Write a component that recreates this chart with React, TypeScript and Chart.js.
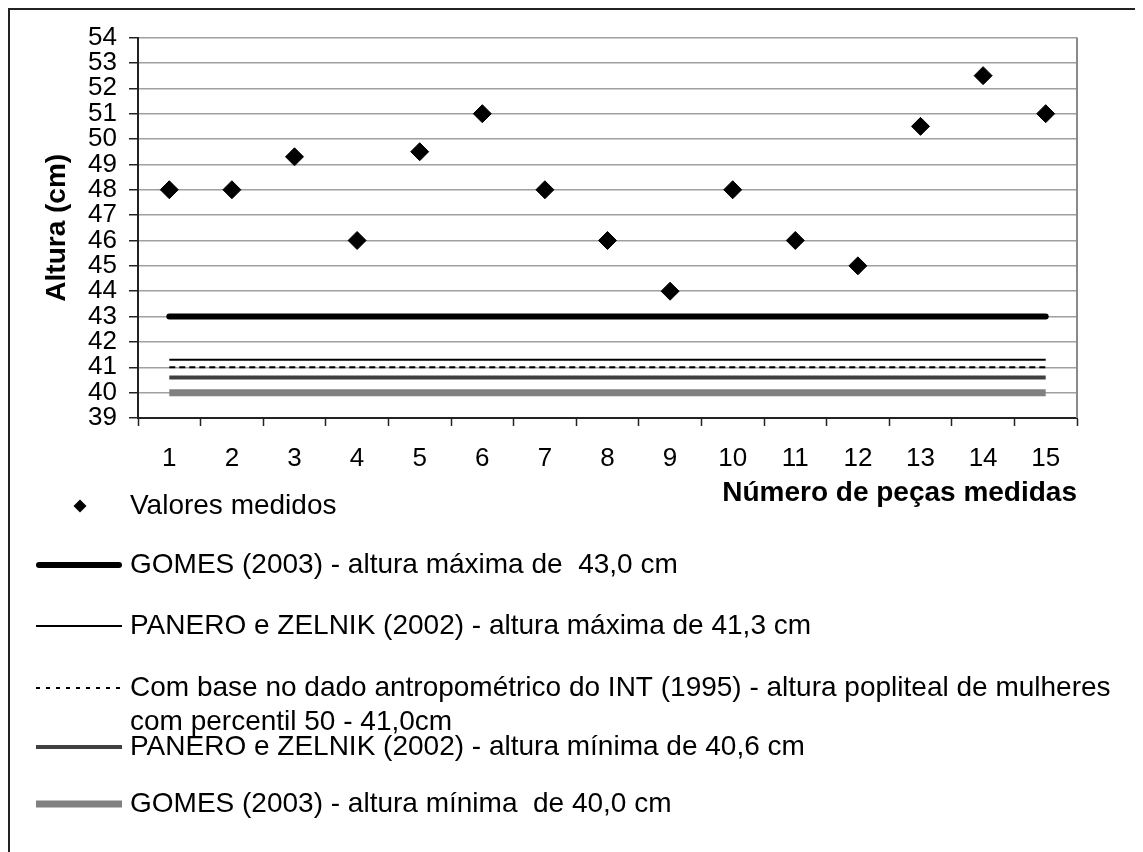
import React, { useEffect, useRef } from 'react';
import { Chart, registerables } from 'chart.js';

Chart.register(...registerables);

// ---- data ----
const categories = ['1', '2', '3', '4', '5', '6', '7', '8', '9', '10', '11', '12', '13', '14', '15'];
const measuredValues = [48, 48, 49.3, 46, 49.5, 51, 48, 46, 44, 48, 46, 45, 50.5, 52.5, 51];
const gomesMax = [43, 43, 43, 43, 43, 43, 43, 43, 43, 43, 43, 43, 43, 43, 43];
const paneroMax = [41.3, 41.3, 41.3, 41.3, 41.3, 41.3, 41.3, 41.3, 41.3, 41.3, 41.3, 41.3, 41.3, 41.3, 41.3];
const intP50 = [41.0, 41.0, 41.0, 41.0, 41.0, 41.0, 41.0, 41.0, 41.0, 41.0, 41.0, 41.0, 41.0, 41.0, 41.0];
const paneroMin = [40.6, 40.6, 40.6, 40.6, 40.6, 40.6, 40.6, 40.6, 40.6, 40.6, 40.6, 40.6, 40.6, 40.6, 40.6];
const gomesMin = [40.0, 40.0, 40.0, 40.0, 40.0, 40.0, 40.0, 40.0, 40.0, 40.0, 40.0, 40.0, 40.0, 40.0, 40.0];

const yMin = 39;
const yMax = 54;
const yStep = 1;

const yTitle = 'Altura (cm)';
const xTitle = 'Número de peças medidas';

const legendLabels: string[][] = [
  ['Valores medidos'],
  ['GOMES (2003) - altura máxima de  43,0 cm'],
  ['PANERO e ZELNIK (2002) - altura máxima de 41,3 cm'],
  ['Com base no dado antropométrico do INT (1995) - altura popliteal de mulheres', 'com percentil 50 - 41,0cm'],
  ['PANERO e ZELNIK (2002) - altura mínima de 40,6 cm'],
  ['GOMES (2003) - altura mínima  de 40,0 cm'],
];

const FONT = '"Liberation Sans", Arial, Helvetica, sans-serif';

// legend layout (canvas coordinates)
const legendRows = [496, 555, 616, 678, 737, 794];
const legendLineGap = 34;
const legendSampleX0 = 26;
const legendSampleX1 = 112;
const legendTextX = 120;

const legendPlugin = {
  id: 'customLegend',
  afterDraw(chart: any) {
    const ctx = chart.ctx as CanvasRenderingContext2D;
    chart.data.datasets.forEach((ds: any, i: number) => {
      const y = legendRows[i];
      ctx.save();
      if (ds.showLine === false) {
        const cx = (legendSampleX0 + legendSampleX1) / 2 + 1;
        const r = 6.5;
        ctx.fillStyle = '#000';
        ctx.beginPath();
        ctx.moveTo(cx, y - r);
        ctx.lineTo(cx + r, y);
        ctx.lineTo(cx, y + r);
        ctx.lineTo(cx - r, y);
        ctx.closePath();
        ctx.fill();
      } else {
        ctx.strokeStyle = ds.borderColor;
        ctx.lineWidth = ds.borderWidth;
        ctx.setLineDash(ds.legendDash || ds.borderDash || []);
        ctx.lineCap = ds.borderCapStyle || 'butt';
        const inset = ds.borderCapStyle === 'round' ? ds.borderWidth / 2 : 0;
        ctx.beginPath();
        ctx.moveTo(legendSampleX0 + inset, y);
        ctx.lineTo(legendSampleX1 - inset, y);
        ctx.stroke();
      }
      ctx.setLineDash([]);
      ctx.fillStyle = '#000';
      ctx.font = `28px ${FONT}`;
      ctx.textBaseline = 'middle';
      ctx.textAlign = 'left';
      (legendLabels[i] || []).forEach((line, k) => {
        ctx.fillText(line, legendTextX, y + k * legendLineGap);
      });
      ctx.restore();
    });
  },
};

const frameRightPlugin = {
  id: 'frameRight',
  beforeDatasetsDraw(chart: any) {
    const { ctx, chartArea } = chart;
    ctx.save();
    ctx.strokeStyle = '#8a8a8a';
    ctx.lineWidth = 2;
    ctx.beginPath();
    ctx.moveTo(chartArea.right, chartArea.top);
    ctx.lineTo(chartArea.right, chartArea.bottom);
    ctx.stroke();
    ctx.restore();
  },
};

export default function App() {
  const canvasRef = useRef<HTMLCanvasElement | null>(null);

  useEffect(() => {
    document.body.style.overflow = 'hidden';
    document.documentElement.style.overflow = 'hidden';
    const canvas = canvasRef.current;
    if (!canvas) return;

    const lineBase = {
      type: 'line' as const,
      pointRadius: 0,
      pointHoverRadius: 0,
      fill: false,
      tension: 0,
    };

    const chart = new Chart(canvas, {
      type: 'line',
      data: {
        labels: categories,
        datasets: [
          {
            label: legendLabels[0].join(' '),
            data: measuredValues,
            showLine: false,
            pointStyle: 'rectRot',
            pointRadius: 9,
            pointHoverRadius: 9,
            pointBackgroundColor: '#000',
            pointBorderColor: '#000',
            pointBorderWidth: 1,
            borderColor: '#000',
            backgroundColor: '#000',
          },
          {
            ...lineBase,
            label: legendLabels[1].join(' '),
            data: gomesMax,
            borderColor: '#000',
            borderWidth: 6,
            borderCapStyle: 'round',
          },
          {
            ...lineBase,
            label: legendLabels[2].join(' '),
            data: paneroMax,
            borderColor: '#000',
            borderWidth: 2,
          },
          {
            ...lineBase,
            label: legendLabels[3].join(' '),
            data: intP50,
            borderColor: '#000',
            borderWidth: 2,
            borderDash: [6, 4],
            legendDash: [4, 6],
          },
          {
            ...lineBase,
            label: legendLabels[4].join(' '),
            data: paneroMin,
            borderColor: '#404040',
            borderWidth: 4,
          },
          {
            ...lineBase,
            label: legendLabels[5].join(' '),
            data: gomesMin,
            borderColor: '#808080',
            borderWidth: 7,
          },
        ] as any,
      },
      options: {
        responsive: false,
        animation: false,
        events: [],
        layout: {
          padding: { top: 23, right: 63, left: 0, bottom: 334 },
        },
        plugins: {
          legend: { display: false },
          tooltip: { enabled: false },
          title: { display: false },
        },
        scales: {
          x: {
            type: 'category',
            offset: true,
            afterFit: (scale: any) => {
              scale.height = 100;
            },
            grid: {
              offset: true,
              drawOnChartArea: false,
              drawTicks: true,
              tickLength: 8,
              tickColor: '#222',
              tickWidth: 1.5,
            },
            border: { display: true, color: '#222', width: 2 },
            ticks: {
              autoSkip: false,
              maxRotation: 0,
              minRotation: 0,
              padding: 17,
              color: '#000',
              font: { family: FONT, size: 26 },
            },
            title: {
              display: true,
              text: xTitle,
              align: 'end',
              color: '#000',
              font: { family: FONT, size: 28, weight: 'bold' },
              padding: { top: 0, bottom: 8 },
            },
          },
          y: {
            type: 'linear',
            min: yMin,
            max: yMax,
            afterFit: (scale: any) => {
              scale.width = 128;
            },
            grid: {
              color: '#a0a0a0',
              lineWidth: 1.5,
              drawTicks: true,
              tickLength: 9,
              tickColor: '#222',
              tickWidth: 1.5,
            },
            border: { display: true, color: '#222', width: 2 },
            ticks: {
              stepSize: yStep,
              autoSkip: false,
              padding: 12,
              color: '#000',
              font: { family: FONT, size: 26 },
            },
            title: {
              display: true,
              text: yTitle,
              color: '#000',
              font: { family: FONT, size: 28, weight: 'bold' },
              padding: { top: 30, bottom: 0 },
            },
          },
        },
      } as any,
      plugins: [frameRightPlugin, legendPlugin],
    });

    return () => {
      chart.destroy();
    };
  }, []);

  return (
    <div
      style={{
        width: 1130,
        height: 842,
        borderTop: '2px solid #222',
        borderLeft: '2px solid #222',
        borderRight: '2px solid #222',
        background: '#fff',
      }}
    >
      <canvas ref={canvasRef} width={1130} height={842} style={{ display: 'block' }} />
    </div>
  );
}
